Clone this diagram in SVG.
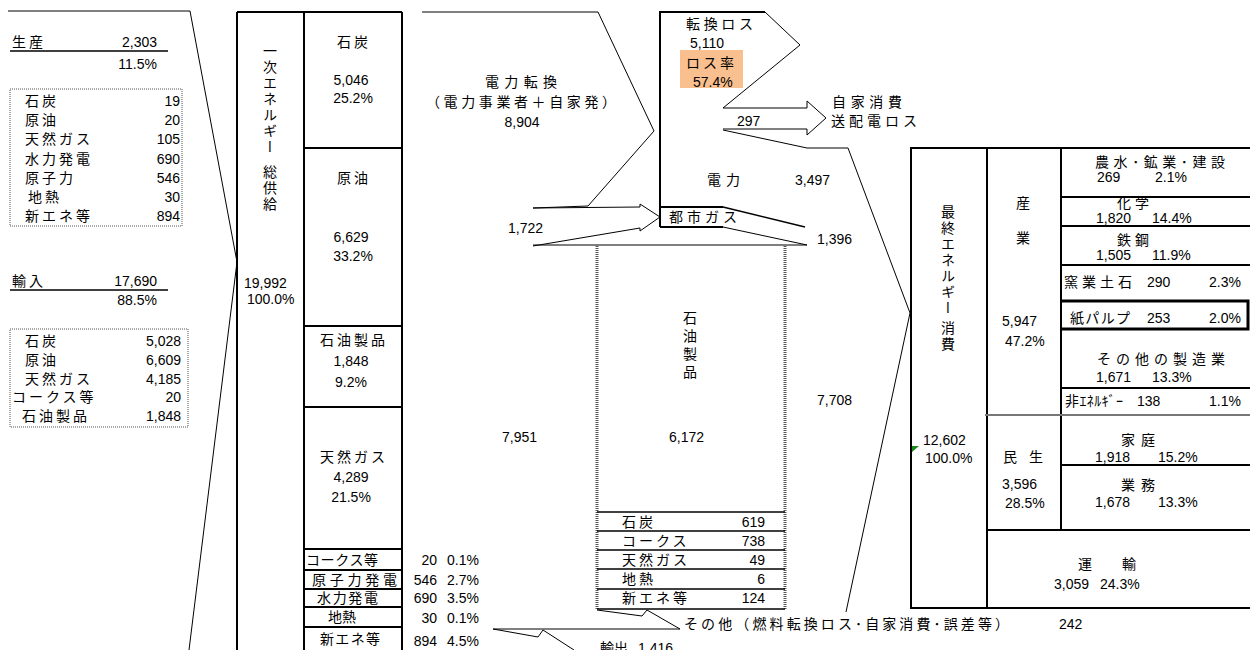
<svg xmlns="http://www.w3.org/2000/svg" width="1250" height="650" viewBox="0 0 1250 650">
<style>
.n{font-family:"Liberation Sans",Arial,sans-serif;font-size:14px;fill:#000}
.j{font-family:"Noto Sans CJK JP","Liberation Sans",sans-serif;font-size:14px;letter-spacing:3px;fill:#000}
.k{font-family:"Noto Sans CJK JP","Liberation Sans",sans-serif;font-size:14px;fill:#000}
.v{font-family:"Noto Sans CJK JP","Liberation Sans",sans-serif;font-size:14px;fill:#000;writing-mode:vertical-rl;text-orientation:mixed}
.m{text-anchor:middle}
.e{text-anchor:end}
.thin{fill:none;stroke:#000;stroke-width:1}
.mid{fill:none;stroke:#000;stroke-width:1.5}
.thick{fill:none;stroke:#000;stroke-width:2}
.dot{fill:none;stroke:#555;stroke-width:1;stroke-dasharray:1 1}
.hatch{fill:none;stroke:#555;stroke-width:3;stroke-dasharray:1 1}
</style>
<rect width="1250" height="650" fill="#fff"/>

<g id="connectors">
  <polyline class="thin" points="8,11 190,11 237,262 189,650"/>
  <polyline class="thin" points="422,12 598,12 654,131 588,206 533,208"/>
  <polyline class="thin" points="533,208 640,207 640,204 660,217 640,231 640,228 533,246"/>
  <line class="thin" x1="533" y1="245" x2="807" y2="245"/>
  <polyline class="thin" points="765,12 800,45 723,108 807,108 807,101 826,118 807,135 807,129 723,129"/>
  <polyline class="thin" points="723,130 807,148 848,148 910,313 846,612"/>
  <polyline class="mid" points="723,207 805,227"/>
  <polyline class="thin" points="723,227 807,245"/>
  <polyline class="thin" points="597,610 642,616 647,610 680,629"/>
  <polyline class="thin" points="493,629 680,629"/>
  <polyline class="thin" points="493,629 538,637 543,630 574,650"/>
</g>

<g id="production">
  <text class="j" x="12" y="47">生産</text>
  <line class="mid" x1="10" y1="51" x2="168" y2="51"/>
  <text class="n e" x="157" y="47">2,303</text>
  <text class="n e" x="157" y="69">11.5%</text>
  <rect class="dot" x="10" y="89" width="172" height="137"/>
  <text class="j" x="25" y="106">石炭</text><text class="n e" x="180" y="106">19</text>
  <text class="j" x="25" y="125">原油</text><text class="n e" x="180" y="125">20</text>
  <text class="j" x="25" y="144">天然ガス</text><text class="n e" x="180" y="144">105</text>
  <text class="j" x="25" y="164">水力発電</text><text class="n e" x="180" y="164">690</text>
  <text class="j" x="25" y="183">原子力</text><text class="n e" x="180" y="183">546</text>
  <text class="j" x="28" y="202">地熱</text><text class="n e" x="180" y="202">30</text>
  <text class="j" x="25" y="221">新エネ等</text><text class="n e" x="180" y="221">894</text>
</g>

<g id="import">
  <text class="j" x="12" y="286">輸入</text>
  <line class="mid" x1="10" y1="290" x2="168" y2="290"/>
  <text class="n e" x="157" y="286">17,690</text>
  <text class="n e" x="157" y="305">88.5%</text>
  <rect class="dot" x="10" y="329" width="178" height="98"/>
  <text class="j" x="25" y="346">石炭</text><text class="n e" x="181" y="346">5,028</text>
  <text class="j" x="25" y="365">原油</text><text class="n e" x="181" y="365">6,609</text>
  <text class="j" x="25" y="384">天然ガス</text><text class="n e" x="181" y="384">4,185</text>
  <text class="j" x="12" y="402">コークス等</text><text class="n e" x="181" y="402">20</text>
  <text class="j" x="22" y="421">石油製品</text><text class="n e" x="181" y="421">1,848</text>
</g>

<g id="primary-supply">
  <line class="thick" x1="237" y1="12" x2="402" y2="12"/>
  <line class="thick" x1="237" y1="12" x2="237" y2="650"/>
  <line class="thick" x1="304" y1="12" x2="304" y2="650"/>
  <line class="thick" x1="402" y1="12" x2="402" y2="650"/>
  <text class="v" x="270" y="44" style="letter-spacing:2px">一次エネルギー</text>
  <text class="v" x="270" y="165" style="letter-spacing:2px">総供給</text>
  <text class="n" x="244" y="288">19,992</text>
  <text class="n" x="247" y="304">100.0%</text>
  <g class="thick">
    <line x1="304" y1="148" x2="402" y2="148"/>
    <line x1="304" y1="326" x2="402" y2="326"/>
    <line x1="304" y1="407" x2="402" y2="407"/>
    <line x1="304" y1="549" x2="402" y2="549"/>
    <line x1="304" y1="570" x2="402" y2="570"/>
    <line x1="304" y1="589" x2="402" y2="589"/>
    <line x1="304" y1="607" x2="402" y2="607"/>
    <line x1="304" y1="627" x2="402" y2="627"/>
  </g>
  <text class="j m" x="354" y="47">石炭</text>
  <text class="n m" x="351" y="85">5,046</text>
  <text class="n m" x="353" y="103">25.2%</text>
  <text class="j m" x="354" y="183">原油</text>
  <text class="n m" x="351" y="242">6,629</text>
  <text class="n m" x="353" y="261">33.2%</text>
  <text class="j m" x="354" y="345">石油製品</text>
  <text class="n m" x="351" y="366">1,848</text>
  <text class="n m" x="351" y="387">9.2%</text>
  <text class="j m" x="354" y="462">天然ガス</text>
  <text class="n m" x="351" y="482">4,289</text>
  <text class="n m" x="351" y="502">21.5%</text>
  <text class="k" x="306" y="565" textLength="72" lengthAdjust="spacing">コークス等</text>
  <text class="k" x="312" y="585" textLength="85" lengthAdjust="spacing">原子力発電</text>
  <text class="k" x="317" y="603" textLength="61" lengthAdjust="spacing">水力発電</text>
  <text class="k" x="328" y="622" textLength="28" lengthAdjust="spacing">地熱</text>
  <text class="k" x="320" y="644" textLength="60" lengthAdjust="spacing">新エネ等</text>
  <text class="n e" x="437" y="565">20</text><text class="n" x="447" y="565">0.1%</text>
  <text class="n e" x="437" y="585">546</text><text class="n" x="447" y="585">2.7%</text>
  <text class="n e" x="437" y="603">690</text><text class="n" x="447" y="603">3.5%</text>
  <text class="n e" x="437" y="623">30</text><text class="n" x="447" y="623">0.1%</text>
  <text class="n e" x="437" y="646">894</text><text class="n" x="447" y="646">4.5%</text>
</g>

<g id="power-conversion">
  <text class="k m" x="521" y="87" textLength="72" lengthAdjust="spacing">電力転換</text>
  <text class="k m" x="521" y="107" textLength="190" lengthAdjust="spacing">（電力事業者＋自家発）</text>
  <text class="n m" x="522" y="127">8,904</text>
  <text class="n" x="508" y="233">1,722</text>
  <text class="n" x="502" y="442">7,951</text>
</g>

<g id="electricity">
  <rect x="680" y="50" width="63" height="38" fill="#F9BF8F"/>
  <polyline class="thick" points="660,227 660,12 765,12"/>
  <text class="k" x="686" y="29" textLength="67" lengthAdjust="spacing">転換ロス</text>
  <text class="n" x="690" y="48">5,110</text>
  <text class="k" x="686" y="68" textLength="48" lengthAdjust="spacing">ロス率</text>
  <text class="n" x="693" y="87">57.4%</text>
  <text class="n" x="737" y="126">297</text>
  <text class="k" x="832" y="107" textLength="70" lengthAdjust="spacing">自家消費</text>
  <text class="k" x="831" y="126" textLength="86" lengthAdjust="spacing">送配電ロス</text>
  <text class="k" x="707" y="185" textLength="33" lengthAdjust="spacing">電力</text>
  <text class="n" x="795" y="185">3,497</text>
</g>

<g id="city-gas">
  <polyline class="thick" points="660,207 723,207"/>
  <polyline class="thick" points="660,227 723,227"/>
  <text class="k" x="669" y="222" textLength="68" lengthAdjust="spacing">都市ガス</text>
  <text class="n" x="817" y="244">1,396</text>
</g>

<g id="petroleum-products">
  <line class="hatch" x1="597" y1="246" x2="597" y2="609"/>
  <line class="hatch" x1="785" y1="246" x2="785" y2="609"/>
  <g class="mid">
    <line x1="597" y1="512" x2="785" y2="512"/>
    <line x1="597" y1="531" x2="785" y2="531"/>
    <line x1="597" y1="550" x2="785" y2="550"/>
    <line x1="597" y1="569" x2="785" y2="569"/>
    <line x1="597" y1="589" x2="785" y2="589"/>
    <line x1="597" y1="609" x2="785" y2="609"/>
  </g>
  <text class="v" x="690" y="311" style="letter-spacing:4px">石油製品</text>
  <text class="n" x="669" y="442">6,172</text>
  <text class="n" x="817" y="405">7,708</text>
  <text class="j" x="622" y="527">石炭</text><text class="n e" x="765" y="527">619</text>
  <text class="j" x="622" y="546">コークス</text><text class="n e" x="765" y="546">738</text>
  <text class="j" x="622" y="565">天然ガス</text><text class="n e" x="765" y="565">49</text>
  <text class="j" x="622" y="584">地熱</text><text class="n e" x="765" y="584">6</text>
  <text class="j" x="622" y="603">新エネ等</text><text class="n e" x="765" y="603">124</text>
</g>

<g id="other-export">
  <text class="k" x="684" y="629" textLength="325" lengthAdjust="spacing">その他（燃料転換ロス･自家消費･誤差等）</text>
  <text class="n" x="1059" y="629">242</text>
  <text class="k" x="600" y="653">輸出</text>
  <text class="n" x="638" y="653">1,416</text>
</g>

<g id="final-consumption">
  <polyline class="thick" points="1250,148 911,148 911,608 1250,608"/>
  <line class="thick" x1="987" y1="148" x2="987" y2="608"/>
  <line class="thick" x1="1061" y1="148" x2="1061" y2="530"/>
  <g class="thick">
    <line x1="1061" y1="197" x2="1250" y2="197"/>
    <line x1="1061" y1="226" x2="1250" y2="226"/>
    <line x1="1061" y1="265" x2="1250" y2="265"/>
    <line x1="1061" y1="388" x2="1250" y2="388"/>
    <line x1="1061" y1="465" x2="1250" y2="465"/>
    <line x1="987" y1="530" x2="1250" y2="530"/>
  </g>
  <polyline points="1061,301 1248,301 1248,329 1061,329" fill="none" stroke="#000" stroke-width="3"/>
  <line x1="985" y1="415" x2="1250" y2="415" stroke="#777" stroke-width="2"/>
  <polygon points="912,446 919,446 912,452" fill="#1a8a1a"/>
  <text class="v" x="948" y="205" style="letter-spacing:2px">最終エネルギー</text>
  <text class="v" x="948" y="321" style="letter-spacing:2px">消費</text>
  <text class="k m" x="1023" y="208">産</text>
  <text class="k m" x="1023" y="243">業</text>
  <text class="n" x="923" y="445">12,602</text>
  <text class="n" x="925" y="463">100.0%</text>
  <text class="n" x="1002" y="326">5,947</text>
  <text class="n" x="1005" y="346">47.2%</text>
  <text class="k" x="1003" y="462" textLength="40" lengthAdjust="spacing">民 生</text>
  <text class="n" x="1002" y="489">3,596</text>
  <text class="n" x="1005" y="508">28.5%</text>

  <text class="k m" x="1160" y="167" textLength="130" lengthAdjust="spacing">農水･鉱業･建設</text>
  <text class="n" x="1097" y="182">269</text><text class="n" x="1155" y="182">2.1%</text>
  <text class="k m" x="1133" y="208" textLength="32" lengthAdjust="spacing">化学</text>
  <text class="n" x="1096" y="223">1,820</text><text class="n" x="1152" y="223">14.4%</text>
  <text class="k m" x="1133" y="245" textLength="32" lengthAdjust="spacing">鉄鋼</text>
  <text class="n" x="1096" y="260">1,505</text><text class="n" x="1152" y="260">11.9%</text>
  <text class="k" x="1064" y="287" textLength="68" lengthAdjust="spacing">窯業土石</text>
  <text class="n" x="1147" y="287">290</text><text class="n e" x="1241" y="287">2.3%</text>
  <text class="k" x="1070" y="323" textLength="60" lengthAdjust="spacing">紙パルプ</text>
  <text class="n" x="1147" y="323">253</text><text class="n e" x="1241" y="323">2.0%</text>
  <text class="k m" x="1161" y="364" textLength="128" lengthAdjust="spacing">その他の製造業</text>
  <text class="n" x="1096" y="382">1,671</text><text class="n" x="1152" y="382">13.3%</text>
  <text class="k" x="1065" y="406" textLength="58" lengthAdjust="spacing">非ｴﾈﾙｷﾞｰ</text>
  <text class="n" x="1137" y="406">138</text><text class="n e" x="1241" y="406">1.1%</text>
  <text class="k m" x="1138" y="445" textLength="34" lengthAdjust="spacing">家庭</text>
  <text class="n" x="1095" y="462">1,918</text><text class="n" x="1158" y="462">15.2%</text>
  <text class="k m" x="1138" y="490" textLength="34" lengthAdjust="spacing">業務</text>
  <text class="n" x="1095" y="507">1,678</text><text class="n" x="1158" y="507">13.3%</text>
  <text class="k" x="1078" y="569">運</text>
  <text class="k" x="1122" y="569">輸</text>
  <text class="n" x="1054" y="589">3,059</text><text class="n" x="1100" y="589">24.3%</text>
</g>
</svg>
